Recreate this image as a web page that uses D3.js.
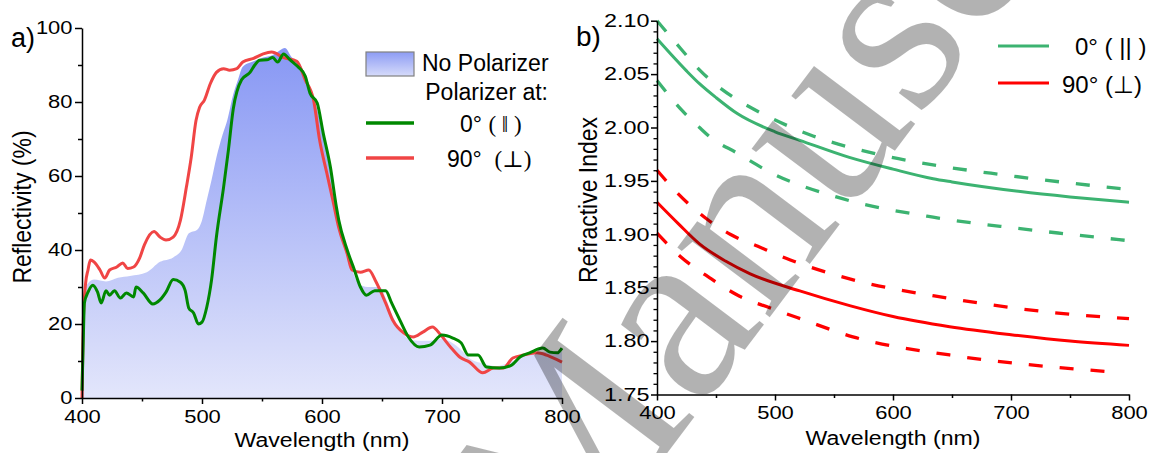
<!DOCTYPE html>
<meta charset="utf-8">
<style>
  body { margin: 0; background: #fff; }
  svg text { font-family: "Liberation Sans", Arial, sans-serif; fill: #000; }
</style>
<div id="chart"></div>
<script src="https://d3js.org/d3.v7.min.js"></script>
<script>
// ---- panel a) reflectivity (%) vs wavelength (nm) ----
var wlNoPol = [400,401,403,410,420,430,440,454,465,476,483,489,496,500,504,508,512,517,521,526,530,534,543,551,559,565,569,575,582,590,596,601,607,612,617,622,627,632,640,648,653,659,666,672,680,690,700,708,716,724,732,745,759,770,787,800];
var rNoPol  = [0,25,30,32,31.5,32.5,33,34,36.8,38,40,44.5,45.5,48,53.5,59,65,71,75,82,86,89.5,91,92,92.7,94,94.6,92,90,84,78,71,61,52,44,38,33,30.5,30,30,27,22,18,16,15.5,15.5,16,15,13,10.5,9.5,8.6,10,11.5,12.4,12.5];

var wl0 = [400,401,402,405,409,413,416,420,423,427,432,437,443,445,451,459,465,470,476,482,486,489,493,497,500,504,508,512,518,522,526,533,540,544,548,554,559,563,568,573,580,586,590,596,601,607,612,614,621,627,632,637,644,653,658,665,672,681,690,700,709,716,722,730,737,748,758,765,773,784,790,796,800];
var r0  = [2,15,25.7,28.6,30.5,28.6,25.7,29,27.8,29,27,28.4,27.3,30,28.4,25.4,26.5,28.6,32,31.3,29,24.3,23,20,20.5,24.6,32,43.5,57,67,78,86,88,90,91.3,91.4,92,90.8,93,91.5,89.5,87,82.4,79.7,71.6,62.4,51.6,48,40,34.6,30,27.8,29,29,25.7,21,16.5,13.8,14.3,17,16.2,14.9,11.6,11.6,8.4,8.1,8.9,11.1,12.2,13.5,12.4,12.2,13.5];

var wl90 = [400,401,403,405,407,410,415,419,423,429,434,438,443,448,452,460,465,470,476,482,487,491,495,498,502,507,512,518,523,529,534,543,551,558,568,579,586,593,598,604,609,614,621,625,632,639,645,653,659,668,676,684,692,699,707,715,723,734,743,751,759,768,779,787,795,800];
var r90  = [0,20,31,34.6,37.3,36.8,34.6,32.4,34.6,35.4,36.5,35,35.4,37.8,41.4,45,43.5,42.7,43.5,48,57,65,75,78.6,80.5,85,88,89,88.6,89,90.8,91.8,93,93.5,92,91,86,80.5,69.7,60.8,53.5,46,39,34.6,34,34.6,31.4,25.7,21,17.6,16.5,17.8,19.2,17,13.8,11,9.7,6.8,8.1,8.1,10.8,11.6,12.2,11.6,10.5,9.7];

var reflTicks = [0, 20, 40, 60, 80, 100];
var reflMinor = [10, 30, 50, 70, 90];
var wlTicks = [400, 500, 600, 700, 800];
var wlMinor = [450, 550, 650, 750];

// ---- panel b) refractive index vs wavelength ----
var nWl0   = [400,425,436,450,468,500,521,563,600,634,650,708,750,800];
var n0     = [2.083,2.053,2.041,2.028,2.013,1.996,1.988,1.972,1.961,1.952,1.949,1.940,1.935,1.930];
var nWl0Hi = [400,420,436,468,479,530,583,634,691,750,800];
var n0Hi   = [2.100,2.074,2.054,2.026,2.019,1.993,1.976,1.965,1.956,1.948,1.942];
var nWl0Lo = [400,422,436,445,468,496,552,634,702,750,800];
var n0Lo   = [2.044,2.015,2.000,1.991,1.976,1.958,1.935,1.916,1.906,1.900,1.894];

var nWl90   = [400,418,436,458,479,521,564,600,648,700,750,800];
var n90     = [1.930,1.910,1.891,1.875,1.863,1.847,1.833,1.823,1.8135,1.806,1.800,1.796];
var nWl90Hi = [400,417,445,462,485,513,564,648,733,800];
var n90Hi   = [1.960,1.939,1.912,1.900,1.889,1.876,1.858,1.840,1.827,1.821];
var nWl90Lo = [400,420,445,470,496,524,566,648,733,788];
var n90Lo   = [1.901,1.879,1.859,1.842,1.831,1.820,1.804,1.787,1.776,1.771];

var nTicks = [1.75, 1.80, 1.85, 1.90, 1.95, 2.00, 2.05, 2.10];

var svg = d3.select("#chart").append("svg")
    .attr("width", 1151)
    .attr("height", 453);

// stretch text horizontally (the source glyphs are wider than Arial)
function stretch(sel, sx, rot) {
  sel.each(function() {
    var t = d3.select(this);
    var x = +t.attr("x") || 0, y = +t.attr("y") || 0;
    t.attr("x", null).attr("y", null)
      .attr("transform", "translate(" + x + "," + y + ") scale(" + sx + ",1)" + (rot ? " rotate(" + rot + ")" : ""));
  });
}

function styleAxis(g, fs, sx) {
  g.attr("font-family", null).attr("font-size", null);
  g.select(".domain").attr("stroke-width", 1.5);
  g.selectAll(".tick line").attr("stroke-width", 1.5);
  g.selectAll(".tick text").attr("font-size", fs);
  stretch(g.selectAll(".tick text"), sx);
}

function minorAxis(axis, vals, size) {
  return axis.tickValues(vals).tickSize(size).tickFormat("");
}

var defs = svg.append("defs");
var xa = d3.scaleLinear().domain([400, 800]).range([82, 562]);
var ya = d3.scaleLinear().domain([0, 100]).range([398, 28]);

var grad = defs.append("linearGradient").attr("id", "blueFill")
    .attr("gradientUnits", "userSpaceOnUse")
    .attr("x1", 0).attr("x2", 0).attr("y1", ya(95)).attr("y2", ya(0));
grad.append("stop").attr("offset", 0).attr("stop-color", "#8797f4");
grad.append("stop").attr("offset", 1).attr("stop-color", "#e3e6fb");
var grad2 = defs.append("linearGradient").attr("id", "blueSwatch")
    .attr("x1", 0).attr("x2", 0).attr("y1", 0).attr("y2", 1);
grad2.append("stop").attr("offset", 0).attr("stop-color", "#8d9cf4");
grad2.append("stop").attr("offset", 1).attr("stop-color", "#d6dbfa");

var area = d3.area()
    .x(function(i) { return xa(wlNoPol[i]); })
    .y0(ya(0))
    .y1(function(i) { return ya(rNoPol[i]); })
    .curve(d3.curveMonotoneX);
svg.append("path").attr("d", area(d3.range(wlNoPol.length))).attr("fill", "url(#blueFill)");

function lineA(wl, r) {
  return d3.line()
    .x(function(i) { return xa(wl[i]); })
    .y(function(i) { return ya(r[i]); })
    .curve(d3.curveMonotoneX)(d3.range(wl.length));
}
svg.append("path").attr("d", lineA(wl90, r90)).attr("fill", "none")
    .attr("stroke", "#f04545").attr("stroke-width", 3).attr("stroke-linejoin", "round");
svg.append("path").attr("d", lineA(wl0, r0)).attr("fill", "none")
    .attr("stroke", "#008800").attr("stroke-width", 3).attr("stroke-linejoin", "round");

// axes a)
var gx = svg.append("g").attr("transform", "translate(0,398)")
    .call(d3.axisBottom(xa).tickValues(wlTicks).tickSize(6).tickSizeOuter(0).tickPadding(6));
styleAxis(gx, 18, 1.22);
svg.append("g").attr("transform", "translate(0,398)")
    .call(minorAxis(d3.axisBottom(xa), wlMinor, 3.5)).call(function(g) { g.select(".domain").remove(); g.selectAll("line").attr("stroke-width", 1.5); });
var gy = svg.append("g").attr("transform", "translate(82,0)")
    .call(d3.axisLeft(ya).tickValues(reflTicks).tickSize(7).tickSizeOuter(0).tickPadding(2.5));
styleAxis(gy, 18, 1.22);
svg.append("g").attr("transform", "translate(82,0)")
    .call(minorAxis(d3.axisLeft(ya), reflMinor, 4)).call(function(g) { g.select(".domain").remove(); g.selectAll("line").attr("stroke-width", 1.5); });

var t;
t = svg.append("text").attr("x", 322).attr("y", 447).attr("text-anchor", "middle").attr("font-size", 21).text("Wavelength (nm)");
stretch(t, 1.1);
t = svg.append("text").attr("x", 31).attr("y", 207).attr("text-anchor", "middle").attr("font-size", 23).text("Reflectivity (%)");
stretch(t, 1.1, -90);
svg.append("text").attr("x", 11).attr("y", 47).attr("font-size", 27).text("a)");

// legend a)
svg.append("rect").attr("x", 366).attr("y", 52).attr("width", 48).attr("height", 24)
    .attr("fill", "url(#blueSwatch)").attr("stroke", "#808080").attr("stroke-width", 1.2);
svg.append("text").attr("x", 422).attr("y", 71).attr("font-size", 23).text("No Polarizer");
svg.append("text").attr("x", 548).attr("y", 100).attr("font-size", 23).attr("text-anchor", "end").text("Polarizer at:");
svg.append("line").attr("x1", 366).attr("x2", 414).attr("y1", 123).attr("y2", 123).attr("stroke", "#008800").attr("stroke-width", 3.5);
svg.append("line").attr("x1", 366).attr("x2", 414).attr("y1", 158).attr("y2", 158).attr("stroke", "#f04545").attr("stroke-width", 3.5);
t = svg.append("text").attr("x", 460).attr("y", 132).attr("font-size", 23).style("white-space", "pre");
t.append("tspan").text("0° ");
t.append("tspan").attr("font-family", "'Liberation Serif', 'DejaVu Serif', serif").text("( \u2016 )");
t = svg.append("text").attr("x", 447).attr("y", 167).attr("font-size", 23).style("white-space", "pre");
t.append("tspan").text("90°  ");
t.append("tspan").attr("font-family", "'Liberation Serif', 'DejaVu Serif', serif").text("(\u22A5)");

// ---- panel b) ----
var xb = d3.scaleLinear().domain([400, 800]).range([657, 1129]);
var yb = d3.scaleLinear().domain([1.75, 2.10]).range([394.5, 20.7]);

function lineB(wl, n) {
  return d3.line()
    .x(function(i) { return xb(wl[i]); })
    .y(function(i) { return yb(n[i]); })
    .curve(d3.curveMonotoneX)(d3.range(wl.length));
}
var curvesB = [
  [nWl0Hi, n0Hi, "#3cb371", true],
  [nWl0Lo, n0Lo, "#3cb371", true],
  [nWl0, n0, "#3cb371", false],
  [nWl90Hi, n90Hi, "#ff0000", true],
  [nWl90Lo, n90Lo, "#ff0000", true],
  [nWl90, n90, "#ff0000", false]
];
curvesB.forEach(function(c) {
  svg.append("path").attr("d", lineB(c[0], c[1])).attr("fill", "none")
    .attr("stroke", c[2]).attr("stroke-width", c[3] ? 3.3 : 3)
    .attr("stroke-dasharray", c[3] ? "14,17" : null);
});

var gxb = svg.append("g").attr("transform", "translate(0,394.5)")
    .call(d3.axisBottom(xb).tickValues(wlTicks).tickSize(6).tickSizeOuter(0).tickPadding(6));
styleAxis(gxb, 18, 1.22);
svg.append("g").attr("transform", "translate(0,394.5)")
    .call(minorAxis(d3.axisBottom(xb), wlMinor, 3.5)).call(function(g) { g.select(".domain").remove(); g.selectAll("line").attr("stroke-width", 1.5); });
var gyb = svg.append("g").attr("transform", "translate(657,0)")
    .call(d3.axisLeft(yb).tickValues(nTicks).tickSize(6).tickSizeOuter(0).tickPadding(1.5).tickFormat(d3.format(".2f")));
styleAxis(gyb, 18, 1.3);
var nMinor = d3.range(176, 210).filter(function(v) { return v % 5 !== 0; }).map(function(v) { return v / 100; });
svg.append("g").attr("transform", "translate(657,0)")
    .call(minorAxis(d3.axisLeft(yb), nMinor, 3.5)).call(function(g) { g.select(".domain").remove(); g.selectAll("line").attr("stroke-width", 1.3); });

t = svg.append("text").attr("x", 893).attr("y", 445).attr("text-anchor", "middle").attr("font-size", 21).text("Wavelength (nm)");
stretch(t, 1.1);
t = svg.append("text").attr("x", 597).attr("y", 200).attr("text-anchor", "middle").attr("font-size", 23).text("Refractive Index");
stretch(t, 1.1, -90);
svg.append("text").attr("x", 576).attr("y", 46).attr("font-size", 28).text("b)");

// legend b)
svg.append("line").attr("x1", 998).attr("x2", 1049).attr("y1", 46).attr("y2", 46).attr("stroke", "#3cb371").attr("stroke-width", 3);
svg.append("line").attr("x1", 998).attr("x2", 1049).attr("y1", 83).attr("y2", 83).attr("stroke", "#ff0000").attr("stroke-width", 3);
svg.append("text").attr("x", 1075).attr("y", 55).attr("font-size", 24).style("white-space", "pre").text("0° ( || )");
svg.append("text").attr("x", 1062).attr("y", 93).attr("font-size", 24).text("90° (\u22A5)");

// watermark
svg.append("text").attr("transform", "translate(564,590) rotate(-53)")
    .style("font-family", "'Liberation Serif', 'Times New Roman', serif")
    .attr("font-size", 252).attr("fill-opacity", 0.3).style("fill", "#000")
    .text("Manuscript");
</script>
